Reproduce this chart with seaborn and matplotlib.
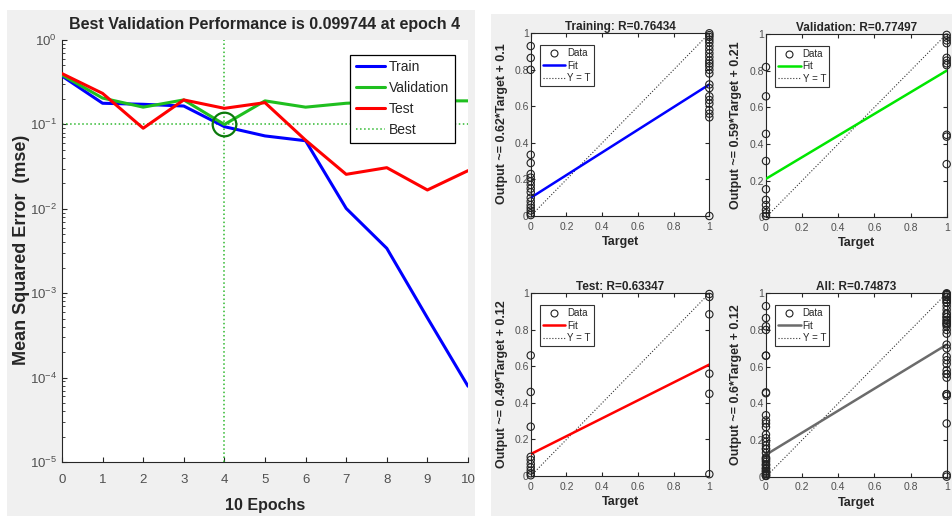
"""
Neural net training report: performance curve + regression plots
"""

import numpy as np
import pandas as pd
import matplotlib
matplotlib.use('Agg')
import matplotlib.pyplot as plt
from matplotlib.lines import Line2D
from matplotlib.patches import Rectangle
import seaborn as sns

# 1. Data

epochs    = [0, 1, 2, 3, 4, 5, 6, 7, 8, 9, 10]
train_mse = [0.374, 0.178, 0.173, 0.165, 0.094, 0.073, 0.064, 0.0101, 0.0034, 0.00051, 0.000079]
val_mse   = [0.385, 0.205, 0.16, 0.195, 0.099744, 0.19, 0.16, 0.178, 0.186, 0.19, 0.19]
test_mse  = [0.40, 0.233, 0.09, 0.195, 0.155, 0.181, 0.065, 0.0256, 0.0307, 0.0167, 0.0283]
best_epoch = 4
best_perf  = 0.099744

# network outputs, split by target class (0 / 1)
train_out_t0 = [0.93, 0.865, 0.80, 0.335, 0.29, 0.23, 0.21, 0.19, 0.17, 0.15, 0.13,
                0.10, 0.08, 0.06, 0.045, 0.03, 0.015, 0.005]
train_out_t1 = [1.0, 0.99, 0.98, 0.965, 0.95, 0.93, 0.91, 0.89, 0.87, 0.85, 0.835, 0.82,
                0.80, 0.78, 0.72, 0.70, 0.655, 0.635, 0.615, 0.58, 0.56, 0.54, 0.0]
val_out_t0   = [0.82, 0.66, 0.455, 0.307, 0.153, 0.095, 0.067, 0.04, 0.022, 0.007]
val_out_t1   = [0.995, 0.98, 0.965, 0.95, 0.87, 0.855, 0.84, 0.83, 0.45, 0.44, 0.29]
test_out_t0  = [0.66, 0.46, 0.27, 0.105, 0.088, 0.066, 0.047, 0.03, 0.015, 0.004]
test_out_t1  = [0.996, 0.98, 0.885, 0.56, 0.45, 0.01]

subset_names = ['Training', 'Validation', 'Test', 'All']
r_values     = ['0.76434', '0.77497', '0.63347', '0.74873']
fit_slope    = [0.62, 0.59, 0.49, 0.6]
fit_offset   = [0.1, 0.21, 0.12, 0.12]
slope_text   = ['0.62', '0.59', '0.49', '0.6']
offset_text  = ['0.1', '0.21', '0.12', '0.12']

reg_ticks       = [0, 0.2, 0.4, 0.6, 0.8, 1]
reg_tick_labels = ['0', '0.2', '0.4', '0.6', '0.8', '1']

# 2. Style

sns.set_style('ticks')
plt.rcParams['font.family'] = ['Liberation Sans', 'DejaVu Sans']
plt.rcParams['mathtext.fontset'] = 'custom'
plt.rcParams['mathtext.rm'] = 'Liberation Sans'
plt.rcParams['mathtext.it'] = 'Liberation Sans:italic'

PERF_COLORS = {'Train': '#0000ff', 'Validation': '#1fbf1f', 'Test': '#ff0000'}
FIT_COLORS  = ['#0000ff', '#00e600', '#ff0000', '#6b6b6b']
BEST_LINE   = '#2eb82e'
BEST_CIRCLE = '#0c7a0c'
TICK_GRAY   = '#505050'
SPINE       = '#262626'
PANEL_BG    = '#f0f0f0'

fig = plt.figure(figsize=(9.52, 5.16), dpi=100, facecolor='white')

# grey window backgrounds of the two screenshots
fig.patches.append(Rectangle((7/952, 0), 468/952, 506/516, transform=fig.transFigure,
                             facecolor=PANEL_BG, edgecolor='none', zorder=-10))
fig.patches.append(Rectangle((491/952, 0), 461/952, 502/516, transform=fig.transFigure,
                             facecolor=PANEL_BG, edgecolor='none', zorder=-10))

# 3. Performance plot

ax = fig.add_axes([0.0651, 0.1047, 0.4265, 0.8178])
perf = pd.DataFrame({
    'epoch': epochs * 3,
    'mse':   train_mse + val_mse + test_mse,
    'set':   ['Train'] * len(epochs) + ['Validation'] * len(epochs) + ['Test'] * len(epochs),
})
sns.lineplot(data=perf, x='epoch', y='mse', hue='set', hue_order=['Train', 'Validation', 'Test'],
             palette=PERF_COLORS, lw=2.2, legend=False, ax=ax, zorder=3)
ax.set_yscale('log')
ax.axvline(best_epoch, color=BEST_LINE, ls=':', lw=1.1, zorder=1)
ax.axhline(best_perf, color=BEST_LINE, ls=':', lw=1.1, zorder=1)
ax.plot([best_epoch], [best_perf], 'o', ms=17, mfc='none', mec=BEST_CIRCLE, mew=1.6, zorder=4)

ax.set_xlim(0, 10)
ax.set_ylim(1e-5, 1)
ax.set_xticks(epochs)
ax.tick_params(axis='both', which='both', direction='in', colors=SPINE, labelcolor=TICK_GRAY,
               labelsize=9.5)
ax.tick_params(axis='x', pad=9)
for s in ['top', 'right']:
    ax.spines[s].set_visible(False)
for s in ['left', 'bottom']:
    ax.spines[s].set_color(SPINE)

ax.set_title(f'Best Validation Performance is {best_perf:g} at epoch {best_epoch}',
             fontsize=11.5, fontweight='bold', pad=8)
ax.set_ylabel('Mean Squared Error  (mse)', fontsize=13, fontweight='bold')
ax.yaxis.set_label_coords(-0.079, 0.502)
ax.set_xlabel('10 Epochs', fontsize=11.5, fontweight='bold')
ax.xaxis.set_label_coords(0.5, -0.085)

handles = [Line2D([], [], color=PERF_COLORS['Train'], lw=2.2),
           Line2D([], [], color=PERF_COLORS['Validation'], lw=2.2),
           Line2D([], [], color=PERF_COLORS['Test'], lw=2.2),
           Line2D([], [], color=BEST_LINE, lw=1.1, ls=':')]
leg = ax.legend(handles, ['Train', 'Validation', 'Test', 'Best'], loc='upper right',
                bbox_to_anchor=(0.968, 0.965), fontsize=10, fancybox=False, framealpha=1,
                edgecolor='black', handlelength=2.1, handletextpad=0.3, labelspacing=0.5,
                borderpad=0.4, borderaxespad=0)
leg.get_frame().set_linewidth(0.9)

# 4. Regression plots

outs_t0 = [train_out_t0, val_out_t0, test_out_t0, train_out_t0 + val_out_t0 + test_out_t0]
outs_t1 = [train_out_t1, val_out_t1, test_out_t1, train_out_t1 + val_out_t1 + test_out_t1]
reg_rects = [[0.5575, 0.5814, 0.1876, 0.3541],
             [0.8046, 0.5789, 0.1898, 0.3552],
             [0.5575, 0.0775, 0.1876, 0.3541],
             [0.8046, 0.0762, 0.1898, 0.3554]]

for i, name in enumerate(subset_names):
    ax_r = fig.add_axes(reg_rects[i])
    df = pd.DataFrame({
        'target': [0] * len(outs_t0[i]) + [1] * len(outs_t1[i]),
        'output': outs_t0[i] + outs_t1[i],
    })
    ax_r.plot([0, 1], [0, 1], ls=':', color='#333333', lw=0.8, zorder=2)
    fit_x = np.array([0, 1])
    ax_r.plot(fit_x, fit_slope[i] * fit_x + fit_offset[i], color=FIT_COLORS[i], lw=1.8, zorder=3)
    sns.scatterplot(data=df, x='target', y='output', marker='o', s=28, fc='none',
                    ec='#222222', linewidth=0.8, ax=ax_r, zorder=4, clip_on=False, legend=False)

    ax_r.set_xlim(0, 1)
    ax_r.set_ylim(0, 1)
    ax_r.set_xticks(reg_ticks)
    ax_r.set_xticklabels(reg_tick_labels)
    ax_r.set_yticks(reg_ticks)
    ax_r.set_yticklabels(reg_tick_labels)
    ax_r.tick_params(axis='both', direction='in', length=3, colors=SPINE, labelcolor=TICK_GRAY,
                     labelsize=7.5, top=True, right=True)
    ax_r.tick_params(axis='x', pad=4)
    ax_r.tick_params(axis='y', pad=1.5)
    for s in ax_r.spines.values():
        s.set_color(SPINE)
        s.set_linewidth(0.8)

    ax_r.set_title(f'{name}: R={r_values[i]}', fontsize=8.5, fontweight='bold', pad=2.5)
    ax_r.set_xlabel('Target', fontsize=9, fontweight='bold')
    ax_r.xaxis.set_label_coords(0.5, -0.11)
    ax_r.set_ylabel(f'Output ~= {slope_text[i]}*Target + {offset_text[i]}',
                    fontsize=9, fontweight='bold')
    ax_r.yaxis.set_label_coords(-0.13, 0.504)

    h = [Line2D([], [], ls='none', marker='o', ms=5, mfc='none', mec='#222222', mew=0.8),
         Line2D([], [], color=FIT_COLORS[i], lw=1.8),
         Line2D([], [], color='#333333', lw=0.8, ls=':')]
    lg = ax_r.legend(h, ['Data', 'Fit', 'Y = T'], loc='upper left', bbox_to_anchor=(0.052, 0.934),
                     fontsize=7, fancybox=False, framealpha=1, edgecolor='#333333',
                     handlelength=2.3, handletextpad=0.2, labelspacing=0.25, borderpad=0.3,
                     borderaxespad=0)
    lg.get_frame().set_linewidth(0.8)

plt.savefig('out.png', dpi=100, facecolor='white')
